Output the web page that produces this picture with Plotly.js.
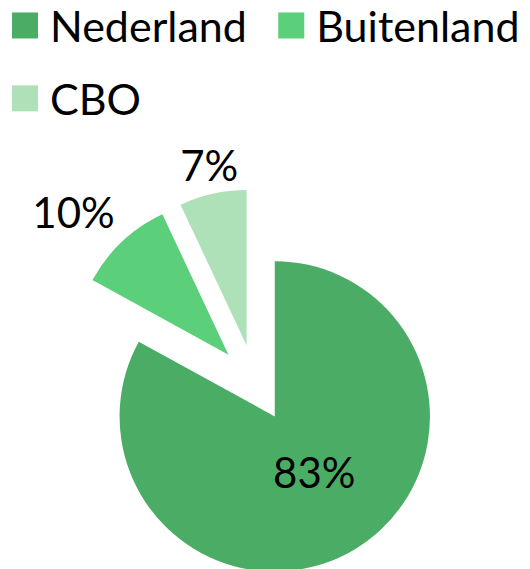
<!DOCTYPE html>
<html><head><meta charset="utf-8">
<script src="https://cdn.plot.ly/plotly-3.0.1.min.js"></script>
<style>html,body{margin:0;padding:0;overflow:hidden;background:#fff}#chart{width:530px;height:580px}</style>
</head><body><div id="chart"></div>
<script>
const categories = ['Nederland', 'Buitenland', 'CBO'];
const values = [83, 10, 7];
const colors = ['#4BAD65', '#5BCF7A', '#AFE1B9'];
const textPositions = ['inside', 'outside', 'outside'];

const FONT = 'Lato, "Liberation Sans", sans-serif';

const trace = {
  type: 'pie',
  labels: categories,
  values: values,
  sort: false,
  direction: 'clockwise',
  rotation: 0,
  pull: [0.25, 0.25, 0.25],
  marker: {colors: colors, line: {width: 0}},
  textinfo: 'percent',
  textposition: textPositions,
  insidetextorientation: 'horizontal',
  textfont: {family: FONT, size: 42, color: '#000'},
  insidetextfont: {family: FONT, size: 42, color: '#000'},
  outsidetextfont: {family: FONT, size: 42, color: '#000'},
  hoverinfo: 'none',
  domain: {x: [0.1151, 0.8472], y: [0.0052, 0.6741]}
};

const layout = {
  width: 530,
  height: 580,
  margin: {l: 0, r: 0, t: 0, b: 0, autoexpand: false},
  paper_bgcolor: '#fff',
  showlegend: true,
  legend: {
    orientation: 'h',
    x: 0, y: 1.0155, xanchor: 'left', yanchor: 'top',
    font: {family: FONT, size: 43, color: '#000'},
    itemwidth: 40,
    bgcolor: 'rgba(0,0,0,0)'
  }
};

// fine placement tweaks (px) applied after render
const legendShift = [[0, 0], [8, 0], [0, 14]];
const labelShift = [[0, -11], [5, -16], [38, -5]];

function shiftTranslate(el, dx, dy) {
  const t = el.getAttribute('transform') || '';
  const m = t.match(/translate\(\s*([-\d.e]+)[ ,]+([-\d.e]+)\s*\)/);
  if (m) {
    el.setAttribute('transform', t.replace(m[0], 'translate(' + (parseFloat(m[1]) + dx) + ',' + (parseFloat(m[2]) + dy) + ')'));
  } else {
    el.setAttribute('transform', 'translate(' + dx + ',' + dy + ') ' + t);
  }
}

Plotly.newPlot('chart', [trace], layout, {staticPlot: true, displayModeBar: false}).then(function () {
  document.querySelectorAll('.legend path.legendpie').forEach(function (p) {
    p.setAttribute('transform', 'translate(25,0) scale(2.17)');
  });
  document.querySelectorAll('.legend g.traces').forEach(function (g, i) {
    if (legendShift[i]) shiftTranslate(g, legendShift[i][0], legendShift[i][1]);
  });
  document.querySelectorAll('g.slice').forEach(function (s, i) {
    const st = s.querySelector('g.slicetext');
    if (st && labelShift[i]) st.setAttribute('transform', 'translate(' + labelShift[i][0] + ',' + labelShift[i][1] + ')');
  });
});
</script>
</body></html>
